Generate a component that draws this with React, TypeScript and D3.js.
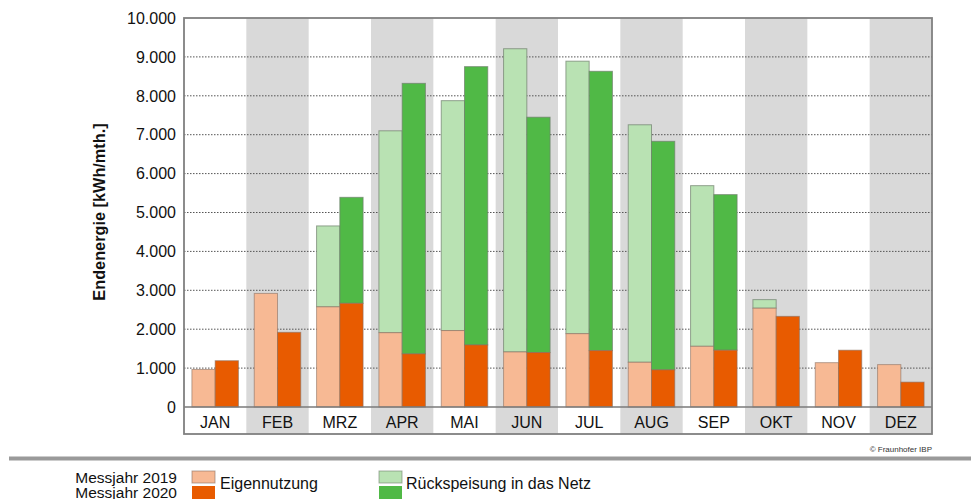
import React from "react";
import * as d3 from "d3";

const months = ["JAN", "FEB", "MRZ", "APR", "MAI", "JUN", "JUL", "AUG", "SEP", "OKT", "NOV", "DEZ"];
const eigen2019 = [965, 2920, 2575, 1910, 1965, 1415, 1885, 1150, 1560, 2540, 1140, 1090];
const eigen2020 = [1190, 1920, 2665, 1365, 1595, 1400, 1450, 955, 1460, 2330, 1460, 640];
const total2019 = [965, 2920, 4655, 7100, 7875, 9210, 8890, 7255, 5690, 2760, 1140, 1090];
const total2020 = [1190, 1920, 5390, 8320, 8750, 7450, 8630, 6830, 5460, 2330, 1460, 640];
const yTicks = [0, 1000, 2000, 3000, 4000, 5000, 6000, 7000, 8000, 9000, 10000];
const years = ["2019", "2020"];

const FONT = "'Liberation Sans', Arial, Helvetica, sans-serif";
const colors = {
  eigen2019: "#f7b994",
  eigen2020: "#e85b00",
  rueck2019: "#b9e2b3",
  rueck2020: "#50b946",
};

export default function App() {
  const left = 184, right = 932, top = 18, zeroY = 407, bandBottom = 434;
  const x = d3.scaleBand<string>().domain(months).range([left, right]).padding(0);
  const x1 = d3.scaleBand<string>().domain(years).range([0, x.bandwidth()]).paddingInner(0).paddingOuter(0.34);
  const y = d3.scaleLinear().domain([0, 10000]).range([zeroY, top]);
  const fmt = (v: number) => d3.format(",")(v).replace(/,/g, ".");

  const bars: JSX.Element[] = [];
  months.forEach((m, i) => {
    const series = [
      { yr: "2019", e: eigen2019[i], t: total2019[i], ce: colors.eigen2019, cr: colors.rueck2019 },
      { yr: "2020", e: eigen2020[i], t: total2020[i], ce: colors.eigen2020, cr: colors.rueck2020 },
    ];
    series.forEach((s) => {
      const bx = (x(m) as number) + (x1(s.yr) as number);
      const bw = x1.bandwidth();
      if (s.t > s.e) {
        bars.push(
          <rect key={`r${m}${s.yr}`} x={bx} y={y(s.t)} width={bw} height={y(s.e) - y(s.t)}
            fill={s.cr} stroke="#6f7f6c" strokeOpacity={0.7} strokeWidth={1} />
        );
      }
      bars.push(
        <rect key={`e${m}${s.yr}`} x={bx} y={y(s.e)} width={bw} height={zeroY - y(s.e)}
          fill={s.ce} stroke="#8a7060" strokeOpacity={0.6} strokeWidth={1} />
      );
    });
  });

  return (
    <svg width={971} height={499} style={{ position: "absolute", left: 0, top: 0, background: "#fff" }}
      fontFamily={FONT}>
      {/* alternating bands */}
      {months.map((m, i) =>
        i % 2 === 1 ? (
          <rect key={`b${m}`} x={x(m)} y={top} width={x.bandwidth()} height={bandBottom - top} fill="#d9d9d9" />
        ) : null
      )}
      {/* gridlines */}
      {yTicks.filter((t) => t > 0 && t < 10000).map((t) => (
        <line key={`g${t}`} x1={left} x2={right} y1={y(t)} y2={y(t)} stroke="#555" strokeWidth={1}
          strokeDasharray="1.5,1.5" />
      ))}
      {bars}
      {/* zero line and frame */}
      <line x1={left} x2={right} y1={zeroY} y2={zeroY} stroke="#7a7a7a" strokeWidth={1.5} />
      <rect x={left} y={top} width={right - left} height={bandBottom - top} fill="none" stroke="#808080" strokeWidth={1.8} />
      {/* y tick labels */}
      {yTicks.map((t) => (
        <text key={`t${t}`} x={176} y={y(t)} dy="0.36em" textAnchor="end" fontSize={16} fill="#111">
          {fmt(t)}
        </text>
      ))}
      {/* x labels */}
      {months.map((m) => (
        <text key={`x${m}`} x={(x(m) as number) + x.bandwidth() / 2} y={428} textAnchor="middle" fontSize={16} fill="#111">
          {m}
        </text>
      ))}
      {/* y title */}
      <text transform={`translate(105,212) rotate(-90)`} textAnchor="middle" fontSize={16.3} fontWeight="bold" fill="#111">
        Endenergie [kWh/mth.]
      </text>
      {/* copyright */}
      <text x={932} y={452} textAnchor="end" fontSize={8} fill="#333">© Fraunhofer IBP</text>
      {/* separator */}
      <line x1={9} x2={971} y1={458.5} y2={458.5} stroke="#9a9a9a" strokeWidth={4} />
      {/* legend */}
      <text x={177} y={482.5} textAnchor="end" fontSize={15.5} fill="#111">Messjahr 2019</text>
      <text x={177} y={498} textAnchor="end" fontSize={15.5} fill="#111">Messjahr 2020</text>
      <rect x={192} y={471} width={23} height={12} fill={colors.eigen2019} stroke="#8a7060" strokeOpacity={0.6} />
      <rect x={192} y={486} width={23} height={14} fill={colors.eigen2020} />
      <text x={220} y={489} fontSize={16} fill="#111">Eigennutzung</text>
      <rect x={379} y={471} width={23} height={12} fill={colors.rueck2019} stroke="#6f7f6c" strokeOpacity={0.6} />
      <rect x={379} y={486} width={23} height={14} fill={colors.rueck2020} />
      <text x={406} y={489} fontSize={16} fill="#111">Rückspeisung in das Netz</text>
    </svg>
  );
}
